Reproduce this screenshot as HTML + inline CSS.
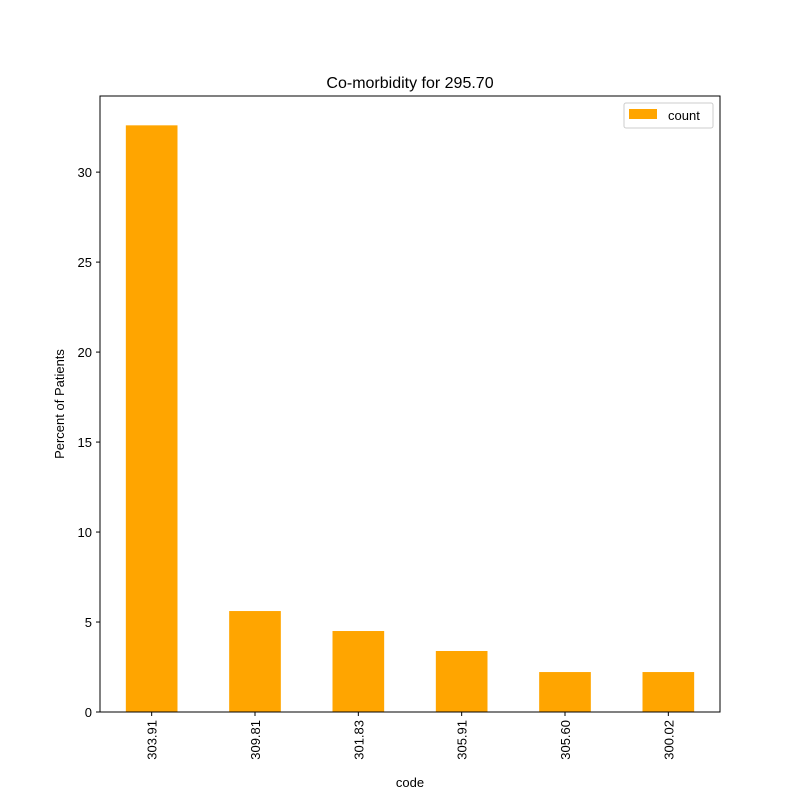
<!DOCTYPE html>
<html><head><meta charset="utf-8"><style>
body{margin:0;background:#fff;}
svg{display:block;font-family:"Liberation Sans","DejaVu Sans",sans-serif;}
</style></head><body>
<svg id="chart" width="800" height="800" viewBox="0 0 800 800">
<rect width="800" height="800" fill="#fff"/>
<text x="410" y="88" font-size="16" text-anchor="middle">Co-morbidity for 295.70</text>
<g id="bars"></g>
<g id="yticks"></g>
<g id="xticks"></g>
<rect x="100" y="96" width="620" height="616" fill="none" stroke="#000" stroke-width="1"/>
<text transform="translate(64,404) rotate(-90)" font-size="13" text-anchor="middle">Percent of Patients</text>
<text x="410" y="787" font-size="13" text-anchor="middle">code</text>
<g>
<rect x="624" y="103" width="89" height="25" rx="2" fill="#fff" stroke="#ccc"/>
<rect x="629" y="109" width="28" height="10" fill="#ffa500"/>
<text x="668" y="120" font-size="13">count</text>
</g>
</svg>
<script>
const categories = ["303.91","309.81","301.83","305.91","305.60","300.02"];
const values = [32.6, 5.61, 4.5, 3.39, 2.22, 2.22];
const yTicks = [0, 5, 10, 15, 20, 25, 30];
const ns = "http://www.w3.org/2000/svg";
const L=100,R=720,T=96,B=712;
const yMax = 34.23;
function y(v){return B-(v/yMax)*(B-T);}
function xc(i){const step=(R-L)/categories.length;return L+step*(i+0.5);}
const bw=(R-L)/categories.length*0.5;
const bars=document.getElementById('bars');
values.forEach((v,i)=>{
 const r=document.createElementNS(ns,'rect');
 r.setAttribute('x',xc(i)-bw/2);r.setAttribute('y',y(v));
 r.setAttribute('width',bw);r.setAttribute('height',B-y(v));
 r.setAttribute('fill','#ffa500');
 
 
 bars.appendChild(r);
});
const yt=document.getElementById('yticks');
yTicks.forEach(t=>{
 const l=document.createElementNS(ns,'line');
 l.setAttribute('x1',L-4);l.setAttribute('x2',L);l.setAttribute('y1',y(t));l.setAttribute('y2',y(t));l.setAttribute('stroke','#000');
 
 
 yt.appendChild(l);
 const tx=document.createElementNS(ns,'text');
 tx.setAttribute('x',L-8);tx.setAttribute('y',y(t)+5);tx.setAttribute('font-size','13');tx.setAttribute('text-anchor','end');
 tx.textContent=t;
 
 
 yt.appendChild(tx);
});
const xt=document.getElementById('xticks');
categories.forEach((c,i)=>{
 const l=document.createElementNS(ns,'line');
 l.setAttribute('x1',xc(i));l.setAttribute('x2',xc(i));l.setAttribute('y1',B);l.setAttribute('y2',B+4);l.setAttribute('stroke','#000');
 
 
 xt.appendChild(l);
 const tx=document.createElementNS(ns,'text');
 tx.setAttribute('transform','translate('+(xc(i)+5)+','+(B+8)+') rotate(-90)');
 tx.setAttribute('font-size','13');tx.setAttribute('text-anchor','end');
 tx.textContent=c;
 
 
 xt.appendChild(tx);
});
</script>
</body></html>
